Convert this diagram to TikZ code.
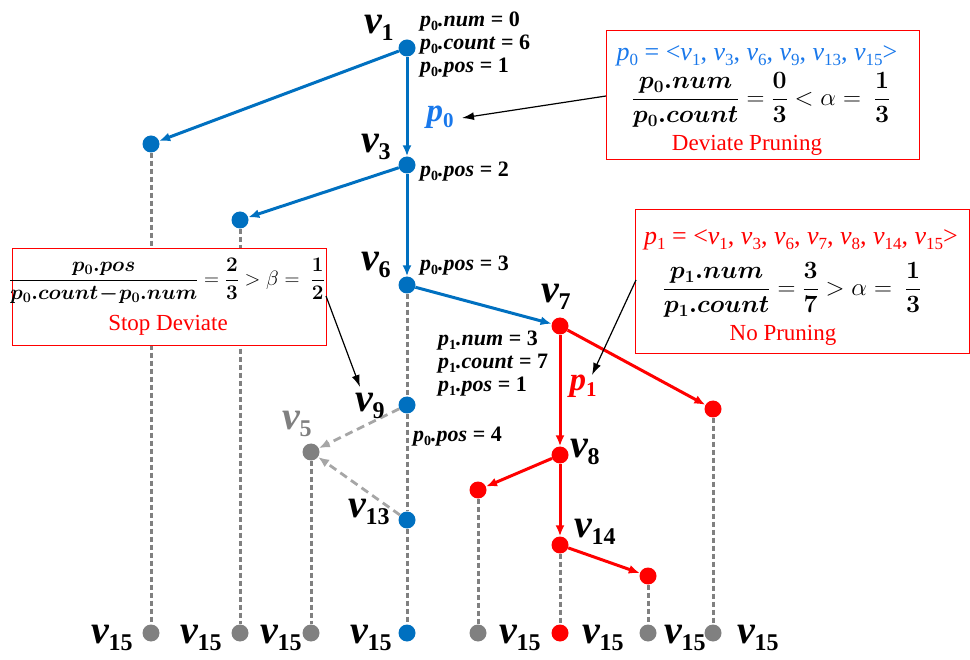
\documentclass[tikz,border=0pt]{standalone}
\usepackage{fontspec}
\setmainfont{Liberation Serif}
\usepackage{bm}
\usetikzlibrary{arrows.meta}
\definecolor{pblue}{RGB}{0,112,192}
\definecolor{ptblue}{RGB}{25,120,235}
\definecolor{pred}{RGB}{255,0,0}
\definecolor{pgray}{RGB}{128,128,128}
\definecolor{lgray}{RGB}{166,166,166}
\newcommand{\bigv}[1]{{\fontsize{40}{40}\selectfont\bfseries\itshape v\/\kern-1pt\raisebox{-7pt}{\fontsize{24}{24}\selectfont\upshape #1}}}
\newcommand{\smp}[3]{{\fontsize{22}{22}\selectfont\bfseries\itshape p\raisebox{-4pt}{\fontsize{14}{14}\selectfont\upshape #1}.#2\/ \upshape= #3}}
\newcommand{\sv}[1]{\textit{v}\raisebox{-5pt}{\fontsize{17}{17}\selectfont #1}}
\newcommand{\spath}[1]{\textit{p}\raisebox{-5pt}{\fontsize{17}{17}\selectfont #1}}
\tikzset{
  dotn/.style={circle,inner sep=0pt,minimum size=17pt,fill=#1},
  bedge/.style={pblue,line width=3pt,-{Latex[length=11pt,width=9pt]}},
  redge/.style={pred,line width=3pt,-{Latex[length=11pt,width=9pt]}},
  gedge/.style={lgray,line width=2.8pt,dash pattern=on 8pt off 5pt,-{Latex[length=11pt,width=9pt]}},
  dline/.style={pgray,line width=3pt,dash pattern=on 5pt off 3pt},
  kedge/.style={black,line width=1.2pt,-{Latex[length=12pt,width=8pt]}},
  infobox/.style={draw=pred,line width=1pt,fill=white},
  lbl/.style={inner sep=0pt},
}
\begin{document}
\begin{tikzpicture}[x=1pt,y=-1pt]
\useasboundingbox (0,0) rectangle (970,660);
% nodes
\node[dotn=pblue] (a1) at (407,48) {};
\node[dotn=pblue] (b1) at (151,144) {};
\node[dotn=pblue] (a3) at (407,165) {};
\node[dotn=pblue] (b3) at (240,220) {};
\node[dotn=pblue] (a6) at (407,285) {};
\node[dotn=pred] (a7) at (560,326) {};
\node[dotn=pred] (r1) at (713,409) {};
\node[dotn=pblue] (a9) at (407,405) {};
\node[dotn=pgray] (a5) at (311,452) {};
\node[dotn=pblue] (a13) at (407,520) {};
\node[dotn=pred] (a8) at (560,455) {};
\node[dotn=pred] (r2) at (478,490) {};
\node[dotn=pred] (a14) at (560,545) {};
\node[dotn=pred] (r3) at (648,576) {};
\node[dotn=pgray] (e1) at (151,633) {};
\node[dotn=pgray] (e2) at (240,633) {};
\node[dotn=pgray] (e3) at (311,633) {};
\node[dotn=pblue] (e4) at (407,633) {};
\node[dotn=pgray] (e5) at (478,633) {};
\node[dotn=pred] (e6) at (560,633) {};
\node[dotn=pgray] (e7) at (648,633) {};
\node[dotn=pgray] (e8) at (713,633) {};
% dashed lines
\draw[dline] (b1) -- (e1);
\draw[dline] (b3) -- (e2);
\draw[dline] (a6) -- (a9);
\draw[dline] (a9) -- (a13);
\draw[dline] (a13) -- (e4);
\draw[dline] (a5) -- (e3);
\draw[dline] (r2) -- (e5);
\draw[dline] (a14) -- (e6);
\draw[dline] (r3) -- (e7);
\draw[dline] (r1) -- (e8);
% blue edges
\draw[bedge] (a1) -- (b1);
\draw[bedge] (a1) -- (a3);
\draw[bedge] (a3) -- (b3);
\draw[bedge] (a3) -- (a6);
\draw[bedge] (a6) -- (a7);
% red edges
\draw[redge] (a7) -- (r1);
\draw[redge] (a7) -- (a8);
\draw[redge] (a8) -- (r2);
\draw[redge] (a8) -- (a14);
\draw[redge] (a14) -- (r3);
% gray dashed arrows
\draw[gedge] (a9) -- (a5);
\draw[gedge] (a13) -- (a5);
% vertex labels
\node[lbl] (l1) at (379,28) {\bigv{1}};
\node[lbl] (l3) at (376,147) {\bigv{3}};
\node[lbl] (l6) at (376,265) {\bigv{6}};
\node[lbl] (l7) at (556,297) {\bigv{7}};
\node[lbl] (l9) at (370,406) {\bigv{9}};
\node[lbl] (l13) at (369,512) {\bigv{13}};
\node[lbl,text=pgray] (l5) at (297,424) {\bigv{5}};
\node[lbl] (l8) at (585,452) {\bigv{8}};
\node[lbl] (l14) at (595,532) {\bigv{14}};
\node[lbl] (f1) at (112,638) {\bigv{15}};
\node[lbl] (f2) at (201,638) {\bigv{15}};
\node[lbl] (f3) at (281,638) {\bigv{15}};
\node[lbl] (f4) at (371,638) {\bigv{15}};
\node[lbl] (f5) at (520,638) {\bigv{15}};
\node[lbl] (f6) at (603,638) {\bigv{15}};
\node[lbl] (f7) at (685,638) {\bigv{15}};
\node[lbl] (f8) at (758,638) {\bigv{15}};
% path labels
\node[lbl,text=ptblue] (p0) at (440,117) {{\fontsize{33}{33}\selectfont\bfseries\itshape p\raisebox{-6pt}{\fontsize{21}{21}\selectfont\upshape 0}}};
\node[lbl,text=pred] (p1) at (583,386) {{\fontsize{33}{33}\selectfont\bfseries\itshape p\raisebox{-6pt}{\fontsize{21}{21}\selectfont\upshape 1}}};
% small labels
\node[lbl,anchor=west] (s1) at (420,22) {\smp{0}{num}{0}};
\node[lbl,anchor=west] (s2) at (420,45) {\smp{0}{count}{6}};
\node[lbl,anchor=west] (s3) at (420,68) {\smp{0}{pos}{1}};
\node[lbl,anchor=west] (s4) at (420,172) {\smp{0}{pos}{2}};
\node[lbl,anchor=west] (s5) at (420,266) {\smp{0}{pos}{3}};
\node[lbl,anchor=west] (s6) at (438,341) {\smp{1}{num}{3}};
\node[lbl,anchor=west] (s7) at (438,364) {\smp{1}{count}{7}};
\node[lbl,anchor=west] (s8) at (438,387) {\smp{1}{pos}{1}};
\node[lbl,anchor=west] (s9) at (413,437) {\smp{0}{pos}{4}};
% box 1
\draw[infobox] (606,31) rectangle (919,160);
\coordinate (k1) at (606,96);
\node[lbl,text=ptblue] (t11) at (757,56) {{\fontsize{26}{26}\selectfont\spath{0} = <\sv{1}, \sv{3}, \sv{6}, \sv{9}, \sv{13}, \sv{15}>}};
\node[lbl] (t12) at (761,100) {\fontsize{24}{24}\selectfont$\displaystyle\frac{\bm{p_0.num}}{\bm{p_0.count}}=\frac{\bm 0}{\bm 3}<\alpha=\ \frac{\bm 1}{\bm 3}$};
\node[lbl,text=pred] (t13) at (747,145) {\fontsize{23}{23}\selectfont Deviate Pruning};
% box 2
\draw[infobox] (635,210) rectangle (969,354);
\coordinate (k2) at (636,280);
\node[lbl,text=pred] (t21) at (801,240) {{\fontsize{26}{26}\selectfont\spath{1} = <\sv{1}, \sv{3}, \sv{6}, \sv{7}, \sv{8}, \sv{14}, \sv{15}>}};
\node[lbl] (t22) at (792,290) {\fontsize{24}{24}\selectfont$\displaystyle\frac{\bm{p_1.num}}{\bm{p_1.count}}=\frac{\bm 3}{\bm 7}>\alpha=\ \frac{\bm 1}{\bm 3}$};
\node[lbl,text=pred] (t23) at (783,335) {\fontsize{23}{23}\selectfont No Pruning};
% box 3
\draw[infobox] (12,249) rectangle (326,346);
\coordinate (k3) at (326,296);
\node[lbl] (t31) at (167,281) {\fontsize{22}{22}\selectfont$\displaystyle\frac{\bm{p_0.pos}}{\bm{p_0.count\!-\!p_0.num}}=\frac{\bm 2}{\bm 3}>\beta=\ \frac{\bm 1}{\bm 2}$};
\node[lbl,text=pred] (t33) at (168,325) {\fontsize{23}{23}\selectfont Stop Deviate};
% black arrows
\coordinate (q0) at (462,118);
\coordinate (q1) at (592,375);
\coordinate (q3) at (360,387);
\draw[kedge] (k1) -- (q0);
\draw[kedge] (k2) -- (q1);
\draw[kedge] (k3) -- (q3);
\end{tikzpicture}
\end{document}
